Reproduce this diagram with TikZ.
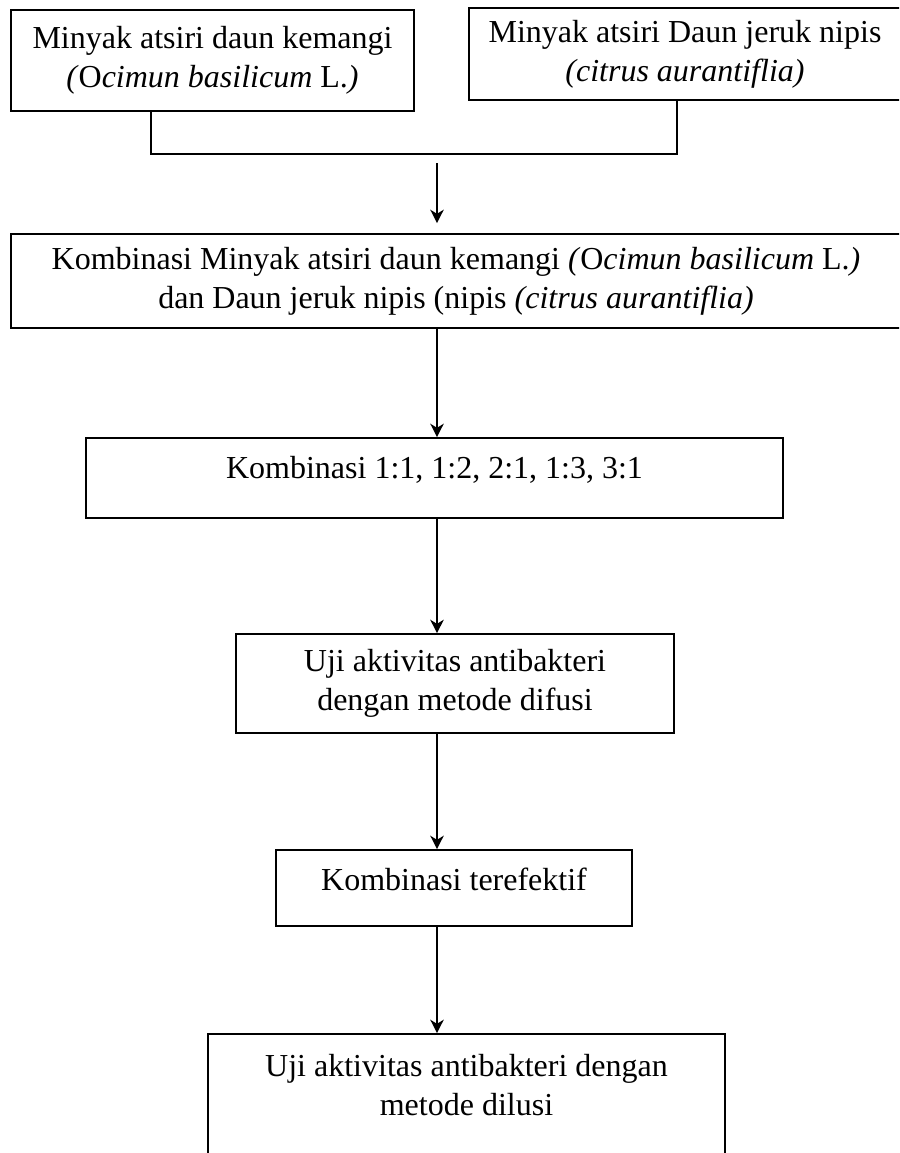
\documentclass[tikz,border=0pt]{standalone}
\usepackage{fontspec}
\setmainfont{Liberation Serif}
\usetikzlibrary{arrows.meta}

\begin{document}
\begin{tikzpicture}[x=0.375pt, y=-0.375pt, >={Stealth[length=5pt,width=5pt,inset=1.5pt]}]
 \tikzstyle{every node}=[font=\fontsize{12}{14.5}\selectfont, align=center]
 \tikzstyle{box}=[draw, rectangle, line width=0.65pt, inner sep=0pt]
 \tikzstyle{link}=[line width=0.85pt]
 \useasboundingbox (0,0) rectangle (899,1153);
 \clip (0,0) rectangle (899,1153);
 % two oils
 \node[box, minimum width=151.1pt, minimum height=37.9pt] (b1) at (212.5,60.5)
   {Minyak atsiri daun kemangi\\ \textit{(}O\textit{cimun basilicum} L.\textit{)}};
 \node[box, minimum width=162pt, minimum height=34.5pt] (b2) at (685,54)
   {Minyak atsiri Daun jeruk nipis\\ \textit{(citrus aurantiflia)}};
 % steps
 \node[box, minimum width=333.75pt, minimum height=35.25pt] (b3) at (456,281)
   {Kombinasi Minyak atsiri daun kemangi \textit{(}O\textit{cimun basilicum} L.\textit{)}\\ dan Daun jeruk nipis (nipis \textit{(citrus aurantiflia)}};
 \node[box, minimum width=261.4pt, minimum height=30pt, text height=8.5pt, text depth=8.5pt] (b4) at (434.5,478)
   {Kombinasi 1:1, 1:2, 2:1, 1:3, 3:1};
 \node[box, minimum width=164.25pt, minimum height=37.1pt] (b5) at (455,683.5)
   {Uji aktivitas antibakteri\\ dengan metode difusi};
 \node[box, minimum width=133.5pt, minimum height=28.5pt, text height=8.5pt, text depth=7pt] (b6) at (454,888)
   {Kombinasi terefektif};
 \node[box, minimum width=193.9pt, minimum height=58.5pt, text height=23.25pt, text depth=21pt] (b7) at (466.5,1112)
   {Uji aktivitas antibakteri dengan\\ metode dilusi};
 % connectors
 \coordinate (j1) at (151,154);
 \coordinate (j2) at (677,154);
 \coordinate (ax) at (437,163);
 \draw[link] (j1 |- b1.south) -- (j1) -- (j2) -- (j2 |- b2.south);
 \draw[link,->] (ax) -- ([yshift=3.75pt]ax |- b3.north);
 \draw[link,->] (b3.south -| ax) -- (b4.north -| ax);
 \draw[link,->] (b4.south -| ax) -- (b5.north -| ax);
 \draw[link,->] (b5.south -| ax) -- (b6.north -| ax);
 \draw[link,->] (b6.south -| ax) -- (b7.north -| ax);
\end{tikzpicture}
\end{document}
